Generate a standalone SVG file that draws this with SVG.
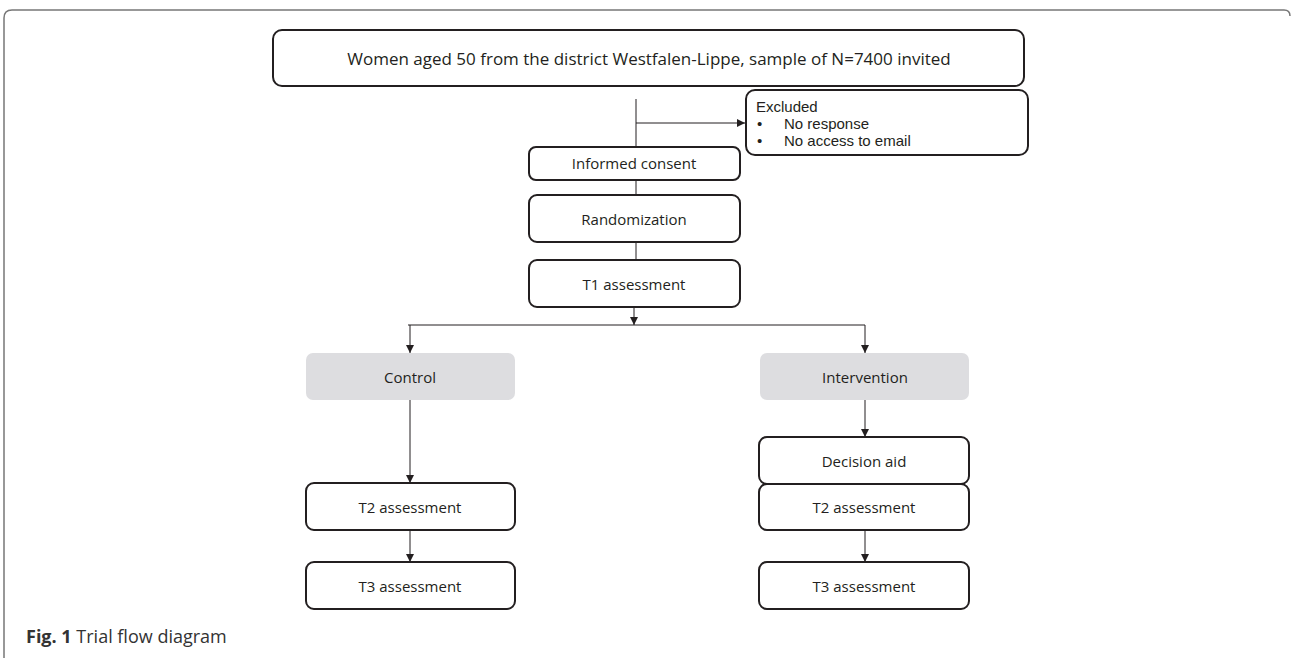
<svg xmlns="http://www.w3.org/2000/svg" width="1293" height="658" viewBox="0 0 1293 658">
<style>
.box{fill:#fff;stroke:#231f20;stroke-width:2}
.grp{fill:#dddde0;stroke:none}
.t{font-family:"Open Sans","Liberation Sans",sans-serif;font-size:15px;fill:#231f20;text-anchor:middle;dominant-baseline:central}
.tl{font-family:"Liberation Sans","Open Sans",sans-serif;font-size:15px;fill:#231f20}
.ln{fill:none;stroke:#231f20;stroke-width:1}
.cap{font-family:"Open Sans","Liberation Sans",sans-serif;font-size:18px;fill:#333}
</style>
<defs>
<marker id="ah" viewBox="0 0 10 10" refX="10" refY="5" markerWidth="8" markerHeight="8" markerUnits="userSpaceOnUse" orient="auto">
<path d="M0,0 L10,5 L0,10 z" fill="#231f20"/>
</marker>
</defs>
<rect width="1293" height="658" fill="#fff"/>
<path d="M4,658 V18 Q4,10 12,10 H1284 Q1290,10 1290,16" fill="none" stroke="#777" stroke-width="1.5"/>
<g id="connectors">
<line class="ln" x1="636" y1="99" x2="636" y2="147"/>
<line class="ln" x1="636" y1="123" x2="745" y2="123" marker-end="url(#ah)"/>
<line class="ln" x1="636" y1="180" x2="636" y2="195"/>
<line class="ln" x1="636" y1="242" x2="636" y2="260"/>
<line class="ln" x1="634" y1="307" x2="634" y2="325" marker-end="url(#ah)"/>
<line class="ln" x1="408" y1="325" x2="865" y2="325"/>
<line class="ln" x1="410" y1="325" x2="410" y2="353" marker-end="url(#ah)"/>
<line class="ln" x1="865" y1="325" x2="865" y2="353" marker-end="url(#ah)"/>
<line class="ln" x1="410" y1="400" x2="410" y2="483" marker-end="url(#ah)"/>
<line class="ln" x1="865" y1="400" x2="865" y2="437" marker-end="url(#ah)"/>
<line class="ln" x1="410" y1="530" x2="410" y2="562" marker-end="url(#ah)"/>
<line class="ln" x1="865" y1="530" x2="865" y2="562" marker-end="url(#ah)"/>
</g>
<g id="n-invited"><rect class="box" x="273" y="30" width="751" height="56" rx="9"/><text class="t" x="649" y="58" style="font-size:17px">Women aged 50 from the district Westfalen-Lippe, sample of N=7400 invited</text></g>
<g id="n-excluded"><rect class="box" x="746" y="90" width="282" height="65" rx="9"/>
<text class="tl" x="756" y="112">Excluded</text>
<text class="tl" x="757" y="129">•</text><text class="tl" x="784" y="129">No response</text>
<text class="tl" x="757" y="146">•</text><text class="tl" x="784" y="146">No access to email</text></g>
<g id="n-consent"><rect class="box" x="529" y="147" width="211" height="33" rx="7"/><text class="t" x="634" y="163">Informed consent</text></g>
<g id="n-random"><rect class="box" x="529" y="195" width="211" height="47" rx="8"/><text class="t" x="634" y="219">Randomization</text></g>
<g id="n-t1"><rect class="box" x="529" y="260" width="211" height="47" rx="8"/><text class="t" x="634" y="284">T1 assessment</text></g>
<g id="n-control"><rect class="grp" x="306" y="353" width="209" height="47" rx="7"/><text class="t" x="410" y="377">Control</text></g>
<g id="n-intervention"><rect class="grp" x="760" y="353" width="209" height="47" rx="7"/><text class="t" x="865" y="377">Intervention</text></g>
<g id="n-c-t2"><rect class="box" x="306" y="483" width="209" height="47" rx="8"/><text class="t" x="410" y="507">T2 assessment</text></g>
<g id="n-c-t3"><rect class="box" x="306" y="562" width="209" height="47" rx="8"/><text class="t" x="410" y="586">T3 assessment</text></g>
<g id="n-aid"><rect class="box" x="759" y="437" width="210" height="47" rx="8"/><text class="t" x="864" y="461">Decision aid</text></g>
<g id="n-i-t2"><rect class="box" x="759" y="484" width="210" height="46" rx="8"/><text class="t" x="864" y="507">T2 assessment</text></g>
<g id="n-i-t3"><rect class="box" x="759" y="562" width="210" height="47" rx="8"/><text class="t" x="864" y="586">T3 assessment</text></g>
<text class="cap" x="26" y="643"><tspan font-weight="bold">Fig. 1</tspan> Trial flow diagram</text>
</svg>
